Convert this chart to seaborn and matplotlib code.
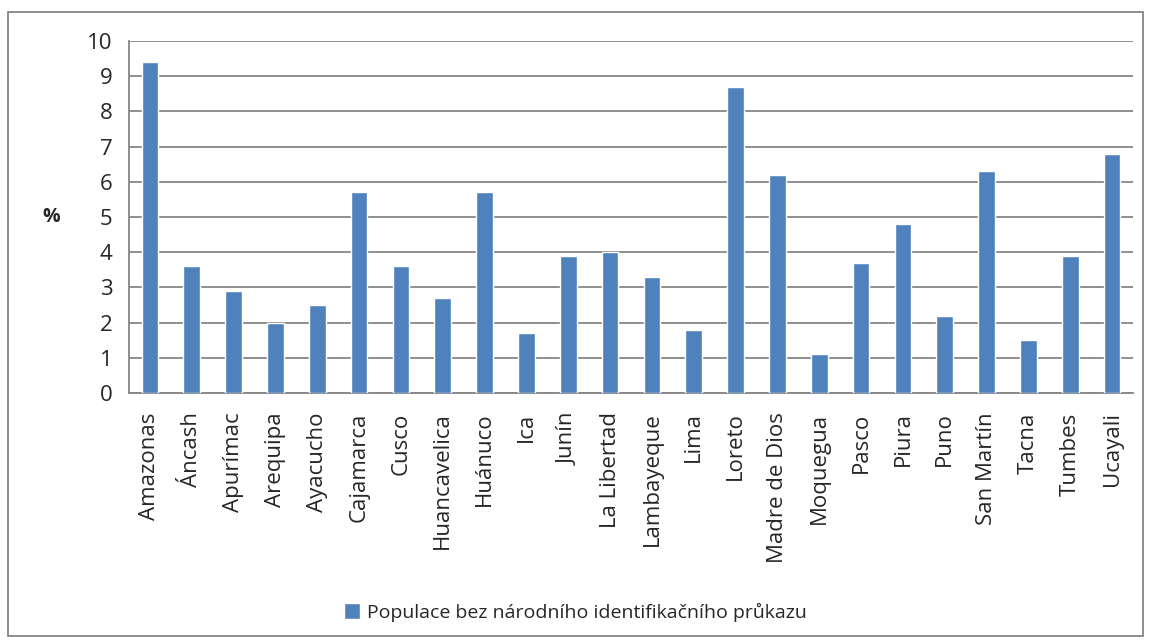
import pandas as pd
import matplotlib.pyplot as plt
import seaborn as sns
from matplotlib.patches import Rectangle, Patch

# Data
regions = ['Amazonas', 'Áncash', 'Apurímac', 'Arequipa', 'Ayacucho', 'Cajamarca',
           'Cusco', 'Huancavelica', 'Huánuco', 'Ica', 'Junín', 'La Libertad',
           'Lambayeque', 'Lima', 'Loreto', 'Madre de Dios', 'Moquegua', 'Pasco',
           'Piura', 'Puno', 'San Martín', 'Tacna', 'Tumbes', 'Ucayali']
values = [9.4, 3.6, 2.9, 2.0, 2.5, 5.7, 3.6, 2.7, 5.7, 1.7, 3.9, 4.0,
          3.3, 1.8, 8.7, 6.2, 1.1, 3.7, 4.8, 2.2, 6.3, 1.5, 3.9, 6.8]
series_name = 'Populace bez národního identifikačního průkazu'

df = pd.DataFrame({'region': regions, 'value': values})

sns.set_style('white')
plt.rcParams['font.family'] = ['Open Sans', 'DejaVu Sans']

grey = '#868686'
blue = '#4F81BD'

fig = plt.figure(figsize=(11.51, 6.44), dpi=100)
ax = fig.add_axes([129 / 1151, 1 - 393 / 644, (1133 - 129) / 1151, (393 - 41) / 644])

sns.barplot(data=df, x='region', y='value', color=blue, width=0.4,
            saturation=1, ax=ax, zorder=3)

ax.set_ylim(0, 10)
ax.set_xlim(-0.5, len(regions) - 0.5)
ax.set_yticks(range(0, 11))
ax.yaxis.grid(True, color=grey, linewidth=1.3, zorder=0)
ax.set_axisbelow(True)

for s in ['top', 'right']:
    ax.spines[s].set_visible(False)
for s in ['left', 'bottom']:
    ax.spines[s].set_color(grey)
    ax.spines[s].set_linewidth(1.3)

ax.tick_params(axis='y', length=9, width=1.3, color=grey, labelsize=16, pad=3)
ax.tick_params(axis='x', which='major', length=0, labelsize=16, labelrotation=90, pad=14)
ax.set_xticks([i - 0.5 for i in range(len(regions) + 1)], minor=True)
ax.tick_params(axis='x', which='minor', length=8, width=1.3, color=grey)

ax.set_xlabel('')
ax.set_ylabel('%', rotation=0, fontsize=14, fontweight='bold', labelpad=26, va='center')

fig.legend(handles=[Patch(facecolor=blue, label=series_name)],
           loc='center', bbox_to_anchor=(0.5, 1 - 612 / 644), frameon=False,
           fontsize=14, handlelength=0.85, handleheight=0.85, handletextpad=0.35)

fig.patches.append(Rectangle((8 / 1151, 1 - 636 / 644), (1143 - 8) / 1151, (636 - 12) / 644,
                             transform=fig.transFigure, fill=False,
                             edgecolor=grey, linewidth=1.3))

plt.savefig('out.png', dpi=100)
